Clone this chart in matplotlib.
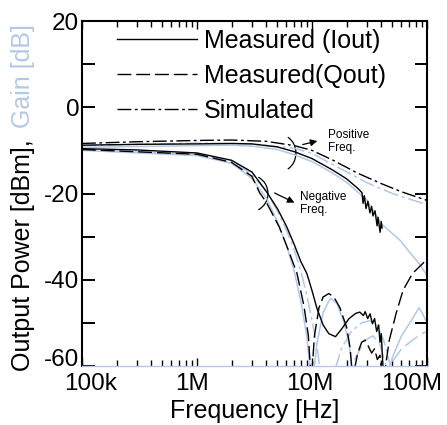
import numpy as np
import matplotlib
matplotlib.use("Agg")
import matplotlib.pyplot as plt
from matplotlib.patches import Arc
from matplotlib.transforms import ScaledTranslation

plt.rcParams['font.family'] = ['Liberation Sans', 'DejaVu Sans']
plt.rcParams['axes.unicode_minus'] = False

BLUE = '#b3c8e6'
DASH = (10.0, 3.5)
DASHDOT = (10.0, 2.5, 2.0, 2.5)

# ---- positive frequency, measured Iout (black solid)
f_pos_i = [1e5, 3e5, 1e6, 2e6, 3e6, 5e6, 7e6, 1e7, 1.5e7, 2e7, 2.5e7,
           2.72e7, 2.78e7, 2.85e7, 2.95e7, 3.06e7, 3.19e7, 3.3e7, 3.39e7,
           3.53e7, 3.68e7, 3.75e7, 3.91e7, 4.0e7, 4.07e7]
p_pos_i = [-8.8, -8.6, -8.5, -8.4, -8.5, -9.2, -10.3, -11.9, -14.5, -16.6, -18.8,
           -19.8, -22.3, -20.5, -23.5, -21.8, -24.5, -23.0, -25.2,
           -24.0, -27.5, -25.5, -29.0, -26.5, -28.0]

# ---- positive frequency, simulated (black dash-dot)
f_pos_s = [1e5, 3e5, 1e6, 2e6, 4e6, 7e6, 1e7, 1.5e7, 2.5e7, 4e7, 6e7, 1e8]
p_pos_s = [-8.4, -8.0, -7.7, -7.6, -7.9, -8.9, -10.0, -12.2, -15.3, -17.7, -19.6, -21.6]

# ---- positive frequency, measured Qout (black dashed, visible part)
f_pos_q = [4.2e7, 4.7e7, 5.4e7, 6.2e7, 7.5e7, 9.3e7, 1e8]
p_pos_q = [-63, -54, -47.7, -42.4, -38.5, -36.1, -35.0]

# ---- negative frequency, measured Iout (black solid)
f_neg_i = [1e5, 3e5, 1e6, 2e6, 3e6, 4e6, 5e6, 6e6, 7e6, 8e6, 9e6, 1e7, 1.1e7,
           1.25e7, 1.4e7, 1.6e7, 1.8e7, 2.1e7, 2.4e7, 2.6e7, 2.8e7, 2.9e7,
           3.05e7, 3.2e7, 3.35e7, 3.5e7, 3.65e7, 3.8e7, 3.9e7, 4.0e7, 4.1e7, 4.2e7]
p_neg_i = [-9.6, -9.9, -10.6, -12.3, -15.0, -19.5, -23.5, -27.6, -31.8, -35.8, -38.5,
           -42.5, -46.5, -50.5, -52.5, -53.2, -51.5, -49.0, -47.8, -47.5, -48.3, -47.4,
           -49.0, -47.9, -50.2, -49.0, -52.0, -50.5, -54.5, -52.5, -58.0, -63]

# ---- negative frequency, measured Qout (black dashed)
f_neg_q = [1e5, 1e6, 2e6, 3e6, 3.5e6, 4e6, 5.2e6, 6.2e6, 7.4e6, 8.5e6, 9.3e6, 9.8e6,
           9.9e6, 1.05e7, 1.15e7, 1.25e7, 1.4e7, 1.55e7, 1.75e7, 2.0e7, 2.15e7, 2.25e7,
           2.5e7, 2.7e7, 2.9e7, 3.1e7, 3.3e7, 3.5e7, 3.7e7, 3.9e7, 4.1e7]
p_neg_q = [-9.8, -10.9, -12.8, -16.0, -19.8, -22.0, -27.8, -33.0, -38.5, -46.0, -53.0, -63,
           -63, -53.0, -46.5, -44.0, -43.2, -44.0, -46.5, -51.0, -56.0, -63,
           -57.0, -54.5, -54.0, -55.5, -57.0, -56.0, -58.5, -57.5, -63]

# ---- gain curves (light blue)
f_g_pos_m = [1e5, 1e6, 2e6, 3e6, 5e6, 7e6, 1e7, 1.5e7, 2e7, 3e7, 4e7, 5.8e7, 7e7, 8.5e7, 1e8]
g_pos_m = [-9.3, -8.9, -8.8, -9.0, -9.8, -11.0, -12.6, -15.2, -17.4, -21.5, -27.0, -30.8, -33.5, -36.2, -39.0]

f_g_pos_s = [1e5, 1e6, 3e6, 7e6, 1e7, 2e7, 3e7, 5e7, 1e8]
g_pos_s = [-8.9, -8.3, -8.5, -9.5, -10.7, -15.0, -17.5, -20.0, -22.6]

f_g_neg_m = [1e5, 1e6, 2e6, 3e6, 4e6, 5e6, 6e6, 7e6, 8e6, 9e6, 9.8e6,
             1.02e7, 1.1e7, 1.25e7, 1.45e7, 1.65e7, 1.9e7, 2.1e7, 2.3e7]
g_neg_m = [-10.0, -11.2, -13.0, -16.5, -21.0, -26.5, -32.0, -38.0, -45.0, -53.0, -63,
           -63, -55.0, -47.5, -44.3, -45.5, -50.0, -55.0, -63]

f_g_neg_s = [1e5, 1e6, 2e6, 3e6, 4e6, 5e6, 6e6, 7e6, 8e6, 9e6, 1e7, 1.1e7, 1.2e7,
             1.5e7, 1.8e7, 2.2e7, 2.7e7, 3.2e7, 3.7e7, 4.2e7, 4.7e7, 5.2e7]
g_neg_s = [-9.9, -10.9, -12.6, -15.5, -19.5, -24.0, -28.5, -33.0, -38.0, -43.5, -49.5, -55.0, -63,
           -63, -56.0, -52.0, -50.0, -49.5, -50.5, -54.0, -59.0, -63]

f_g_r1 = [4.5e7, 5e7, 6e7, 7.5e7, 8.5e7, 9e7, 1e8]
g_r1 = [-63, -58.0, -53.0, -49.0, -46.5, -47.5, -50.0]

f_g_r2 = [4.0e7, 5e7, 6e7, 7.5e7, 9e7, 1e8]
g_r2 = [-63, -59.0, -56.0, -54.0, -52.5, -52.0]

f_g_mid = [2.0e7, 2.4e7, 2.9e7, 3.4e7, 3.9e7, 4.4e7, 4.7e7]
g_mid = [-63, -58.0, -54.0, -53.0, -55.0, -60.0, -63]

x_ticks = [1e5, 1e6, 1e7, 1e8]
x_labels = ['100k', '1M', '10M', '100M']
y_ticks = list(range(-60, 21, 10))

fig = plt.figure(figsize=(4.47, 4.25), dpi=100)
ax = fig.add_axes([82 / 447, 59 / 425, 345 / 447, 345 / 425])

# gain curves first (behind)
ax.plot(f_g_pos_m, g_pos_m, color=BLUE, lw=1.1)
ax.plot(f_g_pos_s, g_pos_s, color=BLUE, lw=1.1, dashes=DASHDOT)
ax.plot(f_g_neg_m, g_neg_m, color=BLUE, lw=1.1)
ax.plot(f_g_neg_s, g_neg_s, color=BLUE, lw=1.1, dashes=DASHDOT)
ax.plot(f_g_r1, g_r1, color=BLUE, lw=1.1)
ax.plot(f_g_r2, g_r2, color=BLUE, lw=1.1, dashes=DASH)
ax.plot(f_g_mid, g_mid, color=BLUE, lw=1.1, dashes=DASH)

# output power
l1, = ax.plot(f_pos_i, p_pos_i, color='k', lw=1.0, label='Measured (Iout)')
ax.plot(f_neg_i, p_neg_i, color='k', lw=1.0)
l2, = ax.plot(f_neg_q, p_neg_q, color='k', lw=1.0, dashes=DASH, label='Measured(Qout)')
ax.plot(f_pos_q, p_pos_q, color='k', lw=1.0, dashes=DASH)
l3, = ax.plot(f_pos_s, p_pos_s, color='k', lw=1.0, dashes=DASHDOT, label='Simulated')

ax.set_xscale('log')
ax.set_xlim(1e5, 1e8)
ax.set_ylim(-60, 20)

ax.set_xticks(x_ticks)
ax.set_xticklabels(x_labels)
ax.set_yticks(y_ticks)
ax.set_yticklabels([str(v) if v % 20 == 0 else '' for v in y_ticks])

ax.tick_params(axis='both', which='both', direction='in', top=True, right=True, labelsize=17.5)
ax.tick_params(axis='y', which='major', length=9, width=1.4, pad=2)
ax.tick_params(axis='x', which='major', length=6, width=1.0, pad=5)
ax.tick_params(axis='x', which='minor', length=4, width=1.0)

# hand-placed tick labels like the original
for lab, dx in zip(ax.get_xticklabels(), [9, -5, -2.5, -15]):
    lab.set_transform(lab.get_transform() + ScaledTranslation(dx / 100, 0, fig.dpi_scale_trans))
ylabs = ax.get_yticklabels()
ylabs[0].set_transform(ylabs[0].get_transform() + ScaledTranslation(0, 8 / 100, fig.dpi_scale_trans))

for s in ['left', 'right', 'top']:
    ax.spines[s].set_linewidth(1.5)
ax.spines['bottom'].set_color(BLUE)
ax.spines['bottom'].set_linewidth(1.0)

ax.set_xlabel('Frequency [Hz]', fontsize=18, labelpad=3)

fig.text(0.052, 0.40, 'Output Power [dBm],', rotation=90, ha='center', va='center', fontsize=18)
fig.text(0.052, 0.82, 'Gain [dB]', rotation=90, ha='center', va='center', fontsize=18, color=BLUE)

ax.legend(handles=[l1, l2, l3], loc='upper left', bbox_to_anchor=(0.10, 0.978),
          frameon=False, fontsize=18, handlelength=3.2, handletextpad=0.3,
          labelspacing=0.45, borderpad=0.0, borderaxespad=0.0)

# annotations
ax.add_patch(Arc((0.575, 0.617), 0.09, 0.105, theta1=-65, theta2=65,
                 transform=ax.transAxes, color='k', lw=0.9))
ax.add_patch(Arc((0.489, 0.50), 0.10, 0.105, theta1=-65, theta2=65,
                 transform=ax.transAxes, color='k', lw=0.9))
ax.annotate('', xy=(0.690, 0.654), xytext=(0.632, 0.640), xycoords='axes fraction',
            arrowprops=dict(arrowstyle='-|>', color='k', lw=0.9, mutation_scale=10))
ax.annotate('', xy=(0.623, 0.470), xytext=(0.551, 0.505), xycoords='axes fraction',
            arrowprops=dict(arrowstyle='-|>', color='k', lw=0.9, mutation_scale=10))
ax.text(0.713, 0.688, 'Positive\nFreq.', transform=ax.transAxes, fontsize=8.5,
        ha='left', va='top', linespacing=1.1)
ax.text(0.632, 0.508, 'Negative\nFreq.', transform=ax.transAxes, fontsize=8.5,
        ha='left', va='top', linespacing=1.1)

fig.savefig('out.png', dpi=100)
